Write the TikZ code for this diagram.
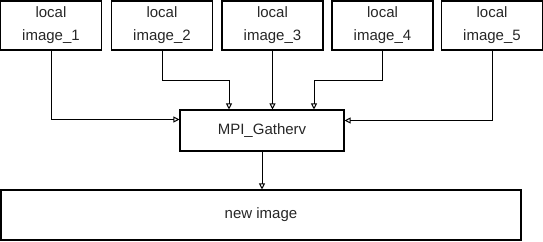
\documentclass[tikz,border=0pt]{standalone}
\usepackage{fontspec}
\setmainfont{Liberation Sans}
\usetikzlibrary{arrows.meta,positioning,calc}

\begin{document}
\begin{tikzpicture}[
        x=1pt, y=-1pt,
        every node/.style={font=\fontsize{15}{23}\selectfont, text=black!85},
        localbox/.style={
            draw, line width=1.1pt, align=center,
            minimum width=101pt, minimum height=49pt, inner sep=0pt,
        },
        gatherbox/.style={
            draw, line width=1.1pt,
            minimum width=164pt, minimum height=41pt,
        },
        resultbox/.style={
            draw, line width=1.1pt,
            minimum width=520pt, minimum height=50pt,
        },
        flow/.style={
            draw, line width=1pt,
            -{Triangle[open, length=6pt, width=6pt]},
        },
    ]
        \useasboundingbox (0,0) rectangle (543,241);

        % local images along the top
        \node[localbox] (img1) at (51,25.5)    {local\\image\_1};
        \node[localbox] (img2) at (162,25.5)   {local\\image\_2};
        \node[localbox] (img3) at (272.5,25.5) {local\\image\_3};
        \node[localbox] (img4) at (382.5,25.5) {local\\image\_4};
        \node[localbox] (img5) at (492,25.5)   {local\\image\_5};

        \node[gatherbox] (gather) at (262,130.5) {MPI\_Gatherv};
        \node[resultbox] (newimg) at (261,215)   {new image};

        % gather step
        \draw[flow] (img1.south) |- ([yshift=11pt]gather.west);
        \draw[flow] (img2.south) -- ++(0,30) -| ([xshift=-33pt]gather.north);
        \draw[flow] (img3.south) -- (img3.south |- gather.north);
        \draw[flow] (img4.south) -- ++(0,30) -| ([xshift=52pt]gather.north);
        \draw[flow] (img5.south) |- ([yshift=10pt]gather.east);

        \draw[flow] (gather.south) -- (gather.south |- newimg.north);
    \end{tikzpicture}
\end{document}
